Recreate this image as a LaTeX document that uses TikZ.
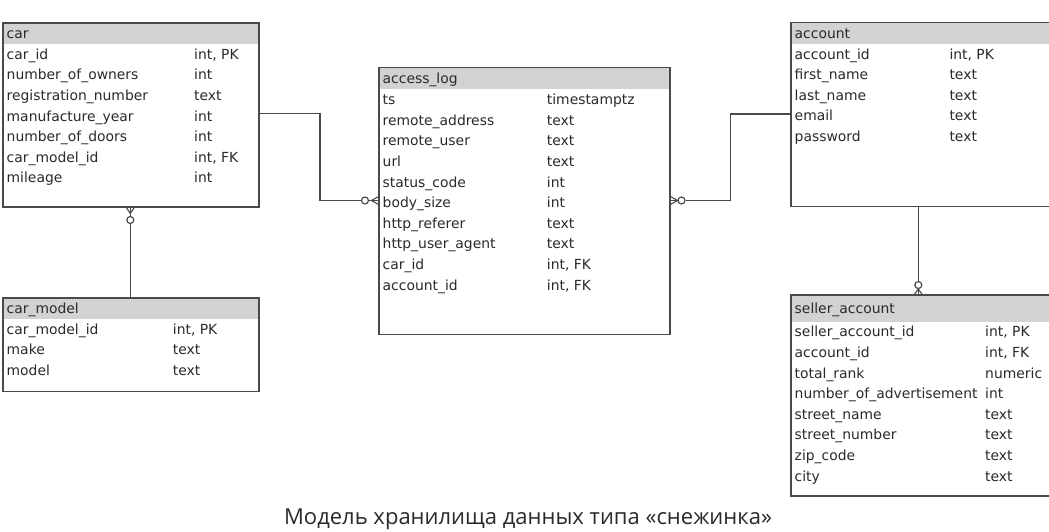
\documentclass[tikz,border=0pt]{standalone}
\usepackage{fontspec}
\setmainfont{DejaVu Sans}
\newfontfamily\capfont{Open Sans}
\definecolor{hdrgray}{HTML}{D2D2D2}
\definecolor{linegray}{HTML}{4A4A4A}
\definecolor{txtcol}{HTML}{2A2A2A}
\newcommand\erfont{\fontsize{13.9}{16}\selectfont}
\tikzset{
  tbl/.style={draw=none, fill=white, anchor=north west, inner sep=0pt, outer sep=0pt},
  hdr/.style={draw=none, fill=hdrgray, anchor=north west, inner sep=0pt, outer sep=0pt},
  frame/.style={draw=linegray, line width=1.4pt},
  txt/.style={anchor=west, inner sep=0pt, font=\erfont, text=txtcol, text height=10pt, text depth=0pt},
  conn/.style={draw=linegray, line width=1.4pt},
  circmark/.style={circle, draw=linegray, fill=white, line width=1.2pt, minimum size=7pt, inner sep=0pt},
}
% #1 id, #2 title, #3 left, #4 top, #5 width, #6 height, #7 header height, #8 type x, #9 rows
\newcommand\ertable[9]{%
  \node[tbl, minimum width=#5, minimum height=#6] (#1) at (#3,#4) {};
  \node[hdr, minimum width=#5, minimum height=#7] (#1-head) at (#3,#4) {};
  \node[txt] (#1-title) at ({#3+3.5},{#4+#7/2}) {#2};
  \foreach \n/\t [count=\i] in {#9} {
    \node[txt] (#1-n\i) at ({#3+3.5},{#4+#7+20.6*(\i-0.5)}) {\n};
    \node[txt] (#1-t\i) at (#8,{#4+#7+20.6*(\i-0.5)}) {\t};
  }
  \draw[frame] (#1.north west) rectangle (#1.south east);
}
\begin{document}
\begin{tikzpicture}[x=1pt,y=-1pt]
\useasboundingbox (0,0) rectangle (1049,531);
\clip (0,0) rectangle (1049,531);

\ertable{car}{car}{3}{23}{256}{184}{21}{194}{%
  {car\_id/int, PK},
  {number\_of\_owners/int},
  {registration\_number/text},
  {manufacture\_year/int},
  {number\_of\_doors/int},
  {car\_model\_id/int, FK},
  {mileage/int}}

\ertable{carmodel}{car\_model}{3}{298}{256}{93.5}{21}{172.7}{%
  {car\_model\_id/int, PK},
  {make/text},
  {model/text}}

\ertable{access}{access\_log}{379}{67.3}{291}{267}{22}{546.7}{%
  {ts/timestamptz},
  {remote\_address/text},
  {remote\_user/text},
  {url/text},
  {status\_code/int},
  {body\_size/int},
  {http\_referer/text},
  {http\_user\_agent/text},
  {car\_id/int, FK},
  {account\_id/int, FK}}

\ertable{account}{account}{791}{22.7}{280}{184}{21}{949.3}{%
  {account\_id/int, PK},
  {first\_name/text},
  {last\_name/text},
  {email/text},
  {password/text}}

\ertable{seller}{seller\_account}{791}{295}{280}{201}{26.5}{985}{%
  {seller\_account\_id/int, PK},
  {account\_id/int, FK},
  {total\_rank/numeric},
  {number\_of\_advertisement/int},
  {street\_name/text},
  {street\_number/text},
  {zip\_code/text},
  {city/text}}

% car -> access_log
\coordinate (p1a) at (259,113.3);
\coordinate (p1b) at (320,113.3);
\coordinate (p1c) at (320,200.5);
\node[circmark] (m1) at (365,200.5) {};
\coordinate (f1) at (371.5,200.5);
\coordinate (f1e) at (379,200.5);
\coordinate (f1u) at (379,196.3);
\coordinate (f1d) at (379,204.7);
\draw[conn] (p1a) -- (p1b) -- (p1c) -- (m1.west);
\draw[conn] (m1.east) -- (f1e);
\draw[conn, line width=1.1pt] (f1u) -- (f1) -- (f1d);

% access_log -> account
\coordinate (f2e) at (670,200.5);
\coordinate (f2) at (677.5,200.5);
\coordinate (f2u) at (670,196.3);
\coordinate (f2d) at (670,204.7);
\node[circmark] (m2) at (681.5,200.5) {};
\coordinate (p2b) at (730.7,200.5);
\coordinate (p2c) at (730.7,114);
\coordinate (p2d) at (791,114);
\draw[conn] (f2e) -- (m2.west);
\draw[conn, line width=1.1pt] (f2u) -- (f2) -- (f2d);
\draw[conn] (m2.east) -- (p2b) -- (p2c) -- (p2d);

% account -> seller_account
\coordinate (p3a) at (918.3,206.7);
\node[circmark] (m3) at (918.3,285) {};
\coordinate (f3) at (918.3,289);
\coordinate (f3e) at (918.3,295);
\coordinate (f3l) at (914,295);
\coordinate (f3r) at (922.6,295);
\draw[conn] (p3a) -- (m3.north);
\draw[conn] (m3.south) -- (f3e);
\draw[conn, line width=1.1pt] (f3l) -- (f3) -- (f3r);

% car -> car_model
\coordinate (f4e) at (130.3,207);
\coordinate (f4) at (130.3,213.5);
\coordinate (f4l) at (126,207);
\coordinate (f4r) at (134.6,207);
\node[circmark] (m4) at (130.3,220) {};
\coordinate (p4b) at (130.3,298);
\draw[conn] (f4e) -- (m4.north);
\draw[conn, line width=1.1pt] (f4l) -- (f4) -- (f4r);
\draw[conn] (m4.south) -- (p4b);

% caption
\node[anchor=base, inner sep=0pt, font=\capfont\fontsize{22}{26}\selectfont, text=txtcol] (caption) at (528,524) {Модель хранилища данных типа «снежинка»};
\end{tikzpicture}
\end{document}
